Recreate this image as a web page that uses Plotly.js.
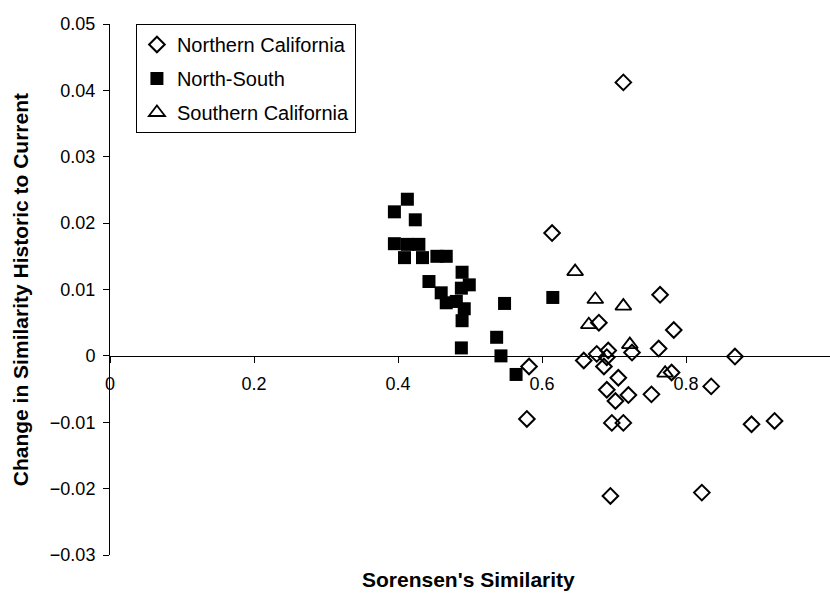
<!DOCTYPE html>
<html>
<head>
<meta charset="utf-8">
<script src="https://cdn.plot.ly/plotly-3.0.1.min.js"></script>
<style>
html,body{margin:0;padding:0;background:#fff;}
#chart{width:830px;height:594px;}
</style>
</head>
<body>
<div id="chart"></div>
<script>
// Northern California
var northX = [0.713, 0.614, 0.764, 0.679, 0.783, 0.658, 0.676, 0.692, 0.690, 0.686, 0.725, 0.762, 0.868, 0.780, 0.706, 0.690, 0.720, 0.702, 0.752, 0.835, 0.697, 0.713, 0.891, 0.923, 0.695, 0.822, 0.582, 0.579];
var northY = [0.0412, 0.0185, 0.0092, 0.0050, 0.0039, -0.0007, 0.0003, 0.0008, -0.0002, -0.0016, 0.0005, 0.0011, -0.0001, -0.0025, -0.0033, -0.0051, -0.0059, -0.0068, -0.0058, -0.0046, -0.0101, -0.0101, -0.0103, -0.0098, -0.0211, -0.0206, -0.0016, -0.0095];

// North-South
var nsX = [0.395, 0.413, 0.424, 0.395, 0.413, 0.429, 0.409, 0.434, 0.454, 0.467, 0.489, 0.443, 0.460, 0.467, 0.481, 0.488, 0.499, 0.492, 0.489, 0.488, 0.548, 0.537, 0.543, 0.564, 0.615];
var nsY = [0.0217, 0.0236, 0.0205, 0.0169, 0.0168, 0.0168, 0.0148, 0.0148, 0.0150, 0.0150, 0.0126, 0.0112, 0.0095, 0.0080, 0.0082, 0.0102, 0.0107, 0.0071, 0.0053, 0.0012, 0.0079, 0.0028, 0.0000, -0.0028, 0.0088];

// Southern California
var southX = [0.646, 0.674, 0.713, 0.665, 0.722, 0.771];
var southY = [0.0127, 0.0085, 0.0075, 0.0047, 0.0017, -0.0026];

var seriesNames = ["Northern California", "North-South", "Southern California"];
var xTickVals = [0, 0.2, 0.4, 0.6, 0.8];
var xTickText = ["0", "0.2", "0.4", "0.6", "0.8"];
var yTickVals = [0.05, 0.04, 0.03, 0.02, 0.01, 0, -0.01, -0.02, -0.03];
var yTickText = ["0.05", "0.04", "0.03", "0.02", "0.01", "0", "\u22120.01", "\u22120.02", "\u22120.03"];
var xTitle = "Sorensen's Similarity";
var yTitle = "Change in Similarity Historic to Current";

var FONT = "Liberation Sans, Arial, Helvetica, sans-serif";

var traces = [
  {x: northX, y: northY, name: seriesNames[0], type: "scatter", mode: "markers", legendgroup: "a",
   marker: {symbol: "diamond-open", size: 12, color: "#000", line: {color: "#000", width: 2}}},
  {x: nsX, y: nsY, name: seriesNames[1], type: "scatter", mode: "markers", legendgroup: "b",
   marker: {symbol: "square", size: 13, color: "#000", line: {width: 0}}},
  {x: southX, y: southY, name: seriesNames[2], type: "scatter", mode: "markers", legendgroup: "c",
   marker: {symbol: "triangle-up-open", size: 14, color: "#000", line: {color: "#000", width: 1.8}}}
];

var layout = {
  width: 830, height: 594,
  margin: {l: 110, r: 0, t: 24, b: 39, pad: 0},
  paper_bgcolor: "#fff", plot_bgcolor: "#fff",
  font: {family: FONT, color: "#000", size: 18},
  showlegend: true,
  legend: {
    x: 0.036, y: 1, xanchor: "left", yanchor: "top",
    bgcolor: "#fff", bordercolor: "#000", borderwidth: 1,
    font: {family: FONT, size: 20, color: "#000"},
    itemwidth: 30, tracegroupgap: 5, traceorder: "grouped"
  },
  xaxis: {
    range: [0, 1], anchor: "free", position: 0.375,
    showline: true, linecolor: "#000", linewidth: 1,
    ticks: "outside", ticklen: 6, tickcolor: "#000", tickwidth: 1,
    tickvals: xTickVals, ticktext: xTickText,
    ticklabelstandoff: 6,
    showgrid: false, zeroline: false,
    tickfont: {family: FONT, size: 18, color: "#000"}
  },
  yaxis: {
    range: [-0.03, 0.05],
    showline: true, linecolor: "#000", linewidth: 1,
    ticks: "outside", ticklen: 6, tickcolor: "#000", tickwidth: 1,
    tickvals: yTickVals, ticktext: yTickText,
    ticklabelstandoff: 4,
    showgrid: false, zeroline: false,
    tickfont: {family: FONT, size: 18, color: "#000"}
  },
  annotations: [
    {text: "<b>" + yTitle + "</b>", xref: "paper", yref: "paper", x: -0.124, y: 0.5,
     xanchor: "center", yanchor: "middle", textangle: -90, showarrow: false,
     font: {family: FONT, size: 21, color: "#000"}},
    {text: "<b>" + xTitle + "</b>", xref: "paper", yref: "paper", x: 0.498, y: -0.046,
     xanchor: "center", yanchor: "middle", showarrow: false,
     font: {family: FONT, size: 21, color: "#000"}}
  ]
};

Plotly.newPlot("chart", traces, layout, {displayModeBar: false, staticPlot: true});
</script>
</body>
</html>
